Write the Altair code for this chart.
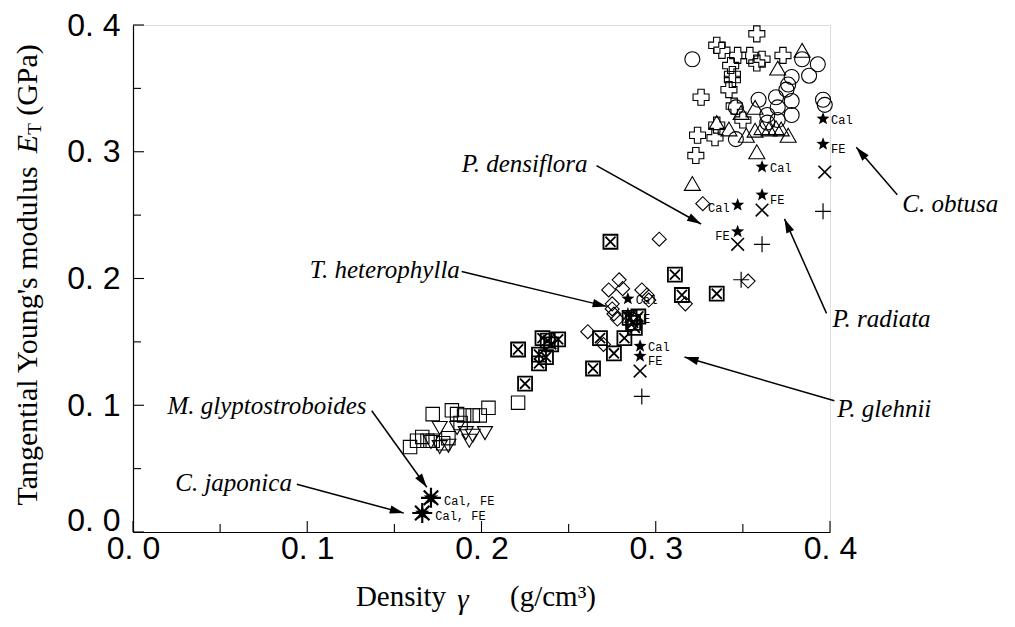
import math
import altair as alt
import pandas as pd

# ---------------- data ----------------
circle_x = [0.321, 0.384, 0.393, 0.388, 0.378, 0.376, 0.375, 0.369, 0.378, 0.359, 0.396, 0.397, 0.370, 0.378, 0.364, 0.346, 0.370, 0.364, 0.346]
circle_y = [0.373, 0.373, 0.369, 0.360, 0.359, 0.353, 0.349, 0.343, 0.340, 0.341, 0.341, 0.337, 0.335, 0.329, 0.329, 0.335, 0.325, 0.323, 0.310]

oplus_x = [0.358, 0.335, 0.338, 0.347, 0.354, 0.358, 0.361, 0.373, 0.343, 0.344, 0.344, 0.342, 0.326, 0.345, 0.350, 0.324, 0.334, 0.323, 0.335]
oplus_y = [0.393, 0.384, 0.380, 0.376, 0.376, 0.370, 0.373, 0.376, 0.368, 0.361, 0.357, 0.349, 0.343, 0.336, 0.325, 0.313, 0.311, 0.297, 0.321]

triup_x = [0.384, 0.370, 0.357, 0.335, 0.342, 0.352, 0.357, 0.361, 0.365, 0.369, 0.372, 0.376, 0.358, 0.321, 0.349]
triup_y = [0.380, 0.366, 0.335, 0.323, 0.318, 0.313, 0.317, 0.319, 0.318, 0.319, 0.318, 0.313, 0.300, 0.275, 0.331]

diamond_x = [0.327, 0.302, 0.353, 0.317, 0.279, 0.281, 0.273, 0.292, 0.295, 0.275, 0.275, 0.276, 0.278, 0.261, 0.270, 0.296]
diamond_y = [0.259, 0.231, 0.198, 0.180, 0.199, 0.192, 0.191, 0.191, 0.187, 0.180, 0.176, 0.172, 0.168, 0.158, 0.148, 0.183]

boxx_x = [0.274, 0.311, 0.315, 0.335, 0.287, 0.288, 0.285, 0.268, 0.276, 0.264, 0.282, 0.290, 0.221, 0.225, 0.233, 0.233, 0.235, 0.238, 0.244, 0.240, 0.237]
boxx_y = [0.229, 0.203, 0.187, 0.188, 0.165, 0.161, 0.169, 0.153, 0.141, 0.129, 0.153, 0.170, 0.144, 0.117, 0.140, 0.133, 0.153, 0.151, 0.152, 0.148, 0.138]

square_x = [0.221, 0.204, 0.172, 0.183, 0.190, 0.195, 0.199, 0.188, 0.159, 0.163, 0.169, 0.172, 0.178, 0.181, 0.166, 0.186]
square_y = [0.102, 0.098, 0.093, 0.096, 0.092, 0.092, 0.092, 0.086, 0.067, 0.072, 0.072, 0.072, 0.070, 0.074, 0.075, 0.093]

tridown_x = [0.176, 0.186, 0.191, 0.195, 0.202, 0.193, 0.176, 0.171, 0.181]
tridown_y = [0.082, 0.082, 0.078, 0.076, 0.078, 0.072, 0.067, 0.071, 0.068]

xmark_x = [0.397, 0.361, 0.347, 0.291]
xmark_y = [0.284, 0.254, 0.227, 0.127]

plus_x = [0.396, 0.361, 0.349, 0.292]
plus_y = [0.253, 0.227, 0.199, 0.107]

star_x = [0.396, 0.396, 0.361, 0.361, 0.347, 0.347, 0.284, 0.284, 0.291, 0.291]
star_y = [0.326, 0.306, 0.288, 0.266, 0.258, 0.237, 0.184, 0.172, 0.1467, 0.1388]
star_label = ["Cal", "FE", "Cal", "FE", "Cal", "FE", "Cal", "FE", "Cal", "FE"]
star_side = ["R", "R", "R", "R", "L", "L", "R", "R", "R", "R"]

aster_x = [0.171, 0.166]
aster_y = [0.027, 0.015]
aster_label = ["Cal, FE", "Cal, FE"]

species = ["P. densiflora", "T. heterophylla", "M. glyptostroboides", "C. japonica",
           "C. obtusa", "P. radiata", "P. glehnii"]
species_x = [0.1886, 0.1015, 0.134, 0.0912, 0.4415, 0.4014, 0.4042]
species_y = [0.290, 0.207, 0.0996, 0.039, 0.259, 0.168, 0.0973]
species_side = ["L", "L", "R", "R", "L", "L", "L"]
arrow_x = [0.266, 0.1886, 0.137, 0.094, 0.4386, 0.398, 0.4025]
arrow_y = [0.289, 0.2055, 0.0957, 0.0376, 0.266, 0.1725, 0.1035]
arrow_x2 = [0.326, 0.2718, 0.1686, 0.1554, 0.4151, 0.3739, 0.3165]
arrow_y2 = [0.243, 0.178, 0.0353, 0.0149, 0.3035, 0.247, 0.138]

tick_major = [0.0, 0.1, 0.2, 0.3, 0.4]
tick_minor = [0.05, 0.15, 0.25, 0.35]

# ---------------- layout / style ----------------
W, H = 697, 507
DOM = [0, 0.4]
xs = alt.Scale(domain=DOM, nice=False, zero=False)
ys = alt.Scale(domain=DOM, nice=False, zero=False)

pts = []
for i in range(10):
    r = 1.0 if i % 2 == 0 else 0.42
    a = math.radians(-90 + 36 * i)
    pts.append(f"{r * math.cos(a):.3f},{r * math.sin(a):.3f}")
STAR = "M" + "L".join(pts) + "Z"
XSHAPE = "M-1,-1L1,1M-1,1L1,-1"
XIN = "M-0.72,-0.72L0.72,0.72M-0.72,0.72L0.72,-0.72"
PLUS = "M-1,0L1,0M0,-1L0,1"
ASTER = "M-1,0L1,0M0,-1L0,1M-0.72,-0.72L0.72,0.72M-0.72,0.72L0.72,-0.72"
HEAD = "M0,0L0.6,2L-0.6,2Z"

lab_fmt = "replace(format(datum.value, '.1f'), '.', '. ')"
common_axis = dict(values=tick_major, labelExpr=lab_fmt, ticks=False, grid=False,
                   domainColor="black", domainWidth=1.2, labelFont="Liberation Sans",
                   labelFontSize=32, labelColor="black", title=None,
                   labelFlush=False, labelOverlap=False)
xaxis = alt.Axis(labelPadding=1, **common_axis)
yaxis = alt.Axis(labelPadding=13,
                 labelOffset={"condition": {"test": "datum.value == 0", "value": -12},
                              "value": 0},
                 **common_axis)


def df(x, y, **kw):
    d = {"x": x, "y": y}
    d.update(kw)
    return pd.DataFrame(d)


def XF(f):
    return alt.X(f, type="quantitative", scale=xs, axis=xaxis)


def YF(f):
    return alt.Y(f, type="quantitative", scale=ys, axis=yaxis)


X = XF("x")
Y = YF("y")


def sym(data, shape, size, filled=False, sw=1.1):
    return alt.Chart(data).mark_point(
        shape=shape, size=size, filled=filled, color="black",
        strokeWidth=sw, opacity=1, fillOpacity=1
    ).encode(x=X, y=Y)


tmaj = pd.DataFrame({"v": tick_major})
tmin = pd.DataFrame({"v": tick_minor})

xt_major = alt.Chart(tmaj).mark_rule(color="black", strokeWidth=1.1).encode(
    x=XF("v"), y=alt.value(H), y2=alt.value(H - 11))
xt_minor = alt.Chart(tmin).mark_rule(color="black", strokeWidth=1.1).encode(
    x=XF("v"), y=alt.value(H), y2=alt.value(H - 8))
yt_major = alt.Chart(tmaj).mark_rule(color="black", strokeWidth=1.1).encode(
    y=YF("v"), x=alt.value(0), x2=alt.value(11))
yt_minor = alt.Chart(tmin).mark_rule(color="black", strokeWidth=1.1).encode(
    y=YF("v"), x=alt.value(0), x2=alt.value(8))

circles = sym(df(circle_x, circle_y), "circle", 225)
oplus = sym(df(oplus_x, oplus_y), "cross", 256)
triup = sym(df(triup_x, triup_y), "triangle-up", 256)
diamonds = sym(df(diamond_x, diamond_y), "diamond", 196)
boxsq = sym(df(boxx_x, boxx_y), "square", 196, sw=1.8)
boxin = sym(df(boxx_x, boxx_y), XIN, 196, sw=1.8)
squares = sym(df(square_x, square_y), "square", 180)
tridown = sym(df(tridown_x, tridown_y), "triangle-down", 225)
xmarks = sym(df(xmark_x, xmark_y), XSHAPE, 160, sw=1.6)
pluses = sym(df(plus_x, plus_y), PLUS, 256, sw=1.2)

star_df = df(star_x, star_y, lab=star_label, side=star_side)
stars = sym(star_df, STAR, 190, filled=True)


def star_labels(side, lab, align, dx, dy):
    return alt.Chart(star_df).transform_filter(
        f"datum.side == '{side}' && datum.lab == '{lab}'"
    ).mark_text(align=align, baseline="middle", dx=dx, dy=dy, font="Liberation Mono",
                fontSize=12, color="black").encode(x=X, y=Y, text="lab:N")


star_labs = [
    star_labels("R", "Cal", "left", 8, 1),
    star_labels("R", "FE", "left", 8, 5),
    star_labels("L", "Cal", "right", -8, 3),
    star_labels("L", "FE", "right", -8, 4),
]

aster_df = df(aster_x, aster_y, lab=aster_label)
asters_a = sym(aster_df, STAR, 230, filled=True)
asters_b = sym(aster_df, ASTER, 400, sw=2.2)
aster_lab = alt.Chart(aster_df).mark_text(
    align="left", baseline="middle", dx=13, dy=3, font="Liberation Mono",
    fontSize=12, color="black").encode(x=X, y=Y, text="lab:N")

# species annotations with arrows
ann = pd.DataFrame({"name": species, "x": species_x, "y": species_y, "side": species_side,
                    "ax": arrow_x, "ay": arrow_y, "ax2": arrow_x2, "ay2": arrow_y2})
px_per_x = W / (DOM[1] - DOM[0])
px_per_y = H / (DOM[1] - DOM[0])
ann["ang"] = [
    (math.degrees(math.atan2((bx - ax) * px_per_x, (by - ay) * px_per_y)) + 360) % 360
    for ax, ay, bx, by in zip(ann.ax, ann.ay, ann.ax2, ann.ay2)
]

ann_l = alt.Chart(ann).transform_filter("datum.side == 'L'").mark_text(
    align="left", baseline="middle", font="Liberation Serif", fontStyle="italic",
    fontSize=25, color="black").encode(x=X, y=Y, text="name:N")
ann_r = alt.Chart(ann).transform_filter("datum.side == 'R'").mark_text(
    align="right", baseline="middle", font="Liberation Serif", fontStyle="italic",
    fontSize=25, color="black").encode(x=X, y=Y, text="name:N")
arrows = alt.Chart(ann).mark_rule(color="black", strokeWidth=1.5).encode(
    x=XF("ax"), y=YF("ay"), x2="ax2:Q", y2="ay2:Q")
heads = alt.Chart(ann).mark_point(shape=HEAD, size=196, filled=True, color="black",
                                  opacity=1).encode(
    x=XF("ax2"), y=YF("ay2"), angle=alt.Angle("ang:Q", scale=None))

# axis titles (mixed upright / italic pieces)
one = pd.DataFrame({"a": [0]})


def title_piece(txt, x, y, size, style="normal", angle=0):
    return alt.Chart(one).mark_text(
        text=txt, font="Liberation Serif", fontSize=size, fontStyle=style,
        angle=angle, align="center", baseline="middle", color="black"
    ).encode(x=alt.value(x), y=alt.value(y))


ytitle = [
    title_piece("Tangential Young's modulus", -105, 311, 30, angle=270),
    title_piece("E", -105, 119, 30, "italic", angle=270),
    title_piece("T", -98, 104, 19, angle=270),
    title_piece("(GPa)", -105, 55, 30, angle=270),
]
xtitle = [
    title_piece("Density", 268, 572, 29),
    title_piece("γ", 330, 575, 29, "italic"),
    title_piece("(g/cm³)", 420, 572, 29),
]

chart = alt.layer(
    xt_major, xt_minor, yt_major, yt_minor,
    circles, oplus, triup, diamonds, boxsq, boxin, squares, tridown,
    xmarks, pluses, stars, *star_labs,
    asters_b, asters_a, aster_lab,
    arrows, heads, ann_l, ann_r,
    *ytitle, *xtitle,
).properties(
    width=W, height=H,
    autosize=alt.AutoSizeParams(type="none"),
    padding={"left": 125, "top": 17, "right": 175, "bottom": 85},
).configure_view(stroke=None).configure(background="white")

chart.save("out.html", embed_options={"renderer": "svg", "actions": False})
